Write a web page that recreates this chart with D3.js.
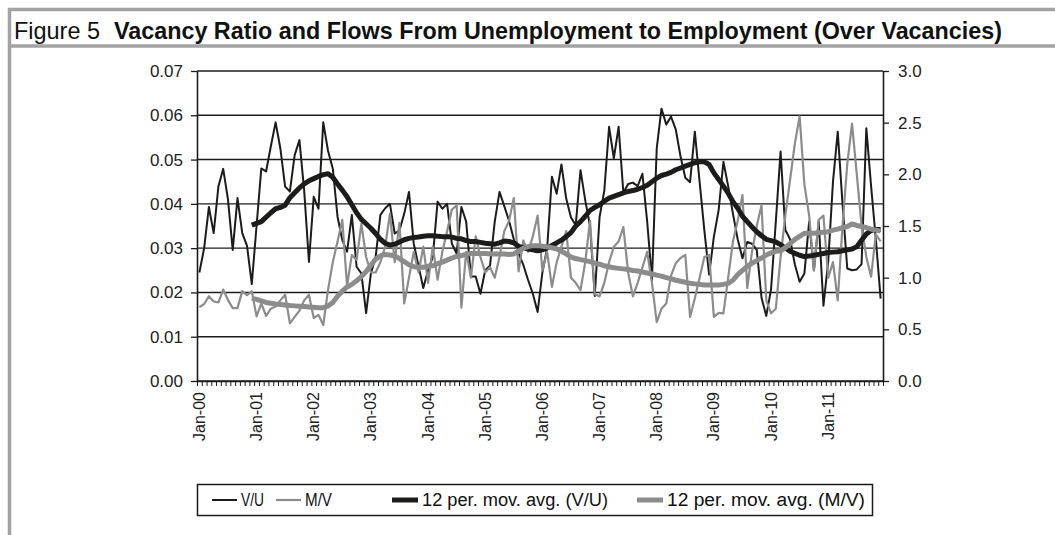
<!DOCTYPE html>
<html><head><meta charset="utf-8">
<script src="https://cdn.jsdelivr.net/npm/d3@7"></script>
<style>body{margin:0;background:#fff;} svg{display:block;}</style>
</head><body>
<svg id="c" width="1055" height="535"></svg>
<script>
// ---------- data ----------
const years = ["00","01","02","03","04","05","06","07","08","09","10","11"];
const monthNames = ["Jan","Feb","Mar","Apr","May","Jun","Jul","Aug","Sep","Oct","Nov","Dec"];
const categories = years.flatMap(y => monthNames.map(m => m + "-" + y));
const tickLabels = ["Jan-00","Jan-01","Jan-02","Jan-03","Jan-04","Jan-05","Jan-06","Jan-07","Jan-08","Jan-09","Jan-10","Jan-11"];
const leftTicks = [0,0.01,0.02,0.03,0.04,0.05,0.06,0.07];
const rightTicks = [0,0.5,1.0,1.5,2.0,2.5,3.0];

// V/U (left axis)
const vu = [
0.0245,0.030,0.0393,0.0334,0.044,0.0479,0.041,0.0296,0.0413,0.0334,0.0305,0.0219,
0.035,0.048,0.0473,0.053,0.0584,0.0525,0.0439,0.0428,0.051,0.0544,0.043,0.0269,
0.0416,0.0389,0.0584,0.052,0.048,0.0371,0.0318,0.0292,0.0375,0.0258,0.0243,0.0153,
0.0243,0.028,0.0375,0.039,0.040,0.0333,0.034,0.0378,0.0427,0.031,0.026,0.021,
0.025,0.028,0.0405,0.0389,0.040,0.031,0.0288,0.0393,0.036,0.0236,0.0236,0.0197,
0.025,0.026,0.036,0.0427,0.0395,0.0362,0.032,0.0288,0.0262,0.0228,0.0197,0.0156,
0.0245,0.030,0.0461,0.0423,0.0489,0.0412,0.0369,0.0352,0.0476,0.0408,0.035,0.0192,
0.037,0.043,0.0574,0.0503,0.0574,0.0425,0.0445,0.0448,0.044,0.0468,0.036,0.0228,
0.0525,0.0615,0.0579,0.0597,0.0568,0.0507,0.0459,0.0449,0.0563,0.045,0.034,0.024,
0.0326,0.0386,0.0495,0.044,0.0378,0.032,0.0277,0.0314,0.031,0.0296,0.0188,0.0147,
0.0207,0.036,0.0518,0.0341,0.032,0.0263,0.0224,0.0243,0.036,0.025,0.036,0.017,
0.027,0.045,0.0563,0.04,0.0254,0.025,0.0252,0.0264,0.0571,0.044,0.032,0.0186
];
// M/V (right axis)
const mv = [
0.715,0.745,0.82,0.77,0.76,0.885,0.785,0.705,0.705,0.87,0.83,0.87,
0.625,0.752,0.63,0.70,0.72,0.78,0.835,0.558,0.62,0.68,0.78,0.835,
0.61,0.64,0.542,0.88,1.15,1.35,1.56,0.92,1.22,1.17,1.52,1.20,
1.05,1.05,1.15,1.30,1.62,1.15,1.53,0.75,1.00,1.25,1.05,1.30,
0.95,1.30,0.98,1.25,1.45,1.66,1.70,0.71,1.25,1.00,1.40,1.20,
1.05,1.10,1.00,1.20,1.45,1.55,1.77,1.06,1.36,1.25,1.40,1.60,
1.07,1.25,0.91,1.15,1.30,1.45,1.00,0.95,0.88,1.15,1.55,0.84,
0.82,0.95,1.15,1.30,1.35,1.49,1.05,0.82,0.95,1.10,1.25,0.95,
0.57,0.70,0.75,1.02,1.14,1.19,1.22,0.62,0.80,1.00,1.20,1.22,
0.62,0.66,0.655,1.00,1.35,1.55,1.80,0.90,1.25,1.50,1.70,0.78,
0.655,0.70,1.20,1.60,1.95,2.30,2.56,1.90,1.60,1.07,1.56,1.60,
1.00,1.15,0.78,1.50,2.10,2.49,2.00,1.50,1.20,1.01,1.42,1.35
];
// 12-period moving averages, starting at month index 11 (Dec-00)
const maStart = 11;
const maVU = [
0.0352,0.0356,0.0360,0.0370,0.0380,0.0389,0.0392,0.0397,0.0414,0.0425,0.0436,0.0445,0.0452,
0.0457,0.0462,0.0466,0.0468,0.0460,0.0445,0.0431,0.0416,0.0398,0.0380,0.0365,0.0355,
0.0345,0.0333,0.0320,0.0311,0.0307,0.0309,0.0314,0.0319,0.0322,0.0324,0.0325,0.0327,
0.0328,0.0328,0.0327,0.0326,0.0326,0.0325,0.0322,0.0321,0.0317,0.0315,0.0315,0.0313,
0.0311,0.0310,0.0309,0.0312,0.0316,0.0315,0.0312,0.0304,0.0301,0.0298,0.0296,0.0294,
0.0296,0.0301,0.0306,0.0312,0.0318,0.0326,0.0335,0.0350,0.0360,0.0372,0.0385,0.0392,
0.0398,0.0406,0.0413,0.0417,0.0421,0.0425,0.0428,0.0430,0.0433,0.0437,0.0442,0.0450,
0.0458,0.0464,0.0467,0.0471,0.0477,0.0481,0.0485,0.0489,0.0493,0.0495,0.0495,0.0489,
0.0470,0.0455,0.0440,0.0424,0.0405,0.0390,0.0372,0.0360,0.0348,0.0337,0.0328,0.0320,
0.0317,0.0314,0.0308,0.0300,0.0293,0.0288,0.0284,0.0281,0.0282,0.0284,0.0286,0.0288,
0.0290,0.0291,0.0292,0.0294,0.0296,0.0298,0.0303,0.0318,0.0332,0.0340,0.0342,0.0342
];
const maMV = [
0.80,0.79,0.775,0.76,0.752,0.745,0.74,0.735,0.73,0.727,0.723,0.72,0.716,
0.713,0.71,0.71,0.725,0.76,0.82,0.87,0.91,0.935,0.97,1.01,1.06,
1.12,1.18,1.21,1.225,1.22,1.21,1.185,1.155,1.125,1.105,1.10,1.10,
1.11,1.115,1.135,1.15,1.17,1.19,1.205,1.215,1.225,1.235,1.235,1.235,
1.235,1.23,1.23,1.23,1.23,1.225,1.23,1.255,1.285,1.30,1.31,1.31,
1.305,1.30,1.29,1.28,1.255,1.23,1.20,1.185,1.175,1.165,1.155,1.14,
1.13,1.115,1.105,1.095,1.09,1.085,1.08,1.07,1.065,1.055,1.045,1.035,
1.025,1.015,1.0,0.99,0.975,0.965,0.955,0.945,0.94,0.935,0.93,0.93,
0.93,0.93,0.935,0.945,0.975,1.03,1.07,1.11,1.14,1.165,1.19,1.22,
1.24,1.255,1.26,1.29,1.33,1.37,1.40,1.43,1.43,1.43,1.435,1.44,
1.445,1.46,1.47,1.485,1.495,1.52,1.505,1.495,1.485,1.47,1.46,1.45
];
const legendItems = ["V/U","M/V","12 per. mov. avg. (V/U)","12 per. mov. avg. (M/V)"];

// ---------- drawing ----------
const svg = d3.select("#c");
const W = 1055, H = 535;
const plot = {l: 197, r: 883, t: 71, b: 381};
const BLACK = "#1e1b1b", GRAY = "#8c8c8c", FRAME = "#a3a3a3";

// frame / title bar
svg.append("line").attr("x1", 8).attr("x2", W).attr("y1", 9.5).attr("y2", 9.5).attr("stroke", FRAME).attr("stroke-width", 3.5);
svg.append("line").attr("x1", 8).attr("x2", W).attr("y1", 46).attr("y2", 46).attr("stroke", FRAME).attr("stroke-width", 3.5);
svg.append("line").attr("x1", 9.5).attr("x2", 9.5).attr("y1", 8).attr("y2", H).attr("stroke", FRAME).attr("stroke-width", 3.5);
const titleFont = "'Liberation Sans Narrow','Arial Narrow','Liberation Sans',Arial,sans-serif";
svg.append("text").attr("x", 14).attr("y", 39).attr("font-family", titleFont).attr("font-size", 24)
  .attr("textLength", 86).attr("lengthAdjust", "spacingAndGlyphs").attr("fill", "#111").text("Figure 5");
svg.append("text").attr("x", 114).attr("y", 39).attr("font-family", titleFont).attr("font-size", 24).attr("font-weight", "bold")
  .attr("textLength", 888).attr("lengthAdjust", "spacingAndGlyphs").attr("fill", "#111")
  .text("Vacancy Ratio and Flows From Unemployment to Employment (Over Vacancies)");

const x = d3.scaleBand().domain(d3.range(categories.length)).range([plot.l, plot.r]).padding(0);
const xb = d3.scaleLinear().domain([0, categories.length]).range([plot.l, plot.r]);
const yL = d3.scaleLinear().domain([0, 0.07]).range([plot.b, plot.t]);
const yR = d3.scaleLinear().domain([0, 3]).range([plot.b, plot.t]);
const cx = i => x(i) + x.bandwidth() / 2;

// gridlines
svg.append("g").selectAll("line").data(leftTicks).join("line")
  .attr("x1", plot.l).attr("x2", plot.r).attr("y1", d => yL(d)).attr("y2", d => yL(d))
  .attr("stroke", BLACK).attr("stroke-width", 1.4);

const axisFont = "'Liberation Sans',Arial,sans-serif";
// left axis
const gL = svg.append("g").attr("transform", `translate(${plot.l},0)`)
  .call(d3.axisLeft(yL).tickValues(leftTicks).tickFormat(d3.format(".2f")).tickSize(6).tickSizeOuter(0).tickPadding(8));
// right axis
const gR = svg.append("g").attr("transform", `translate(${plot.r},0)`)
  .call(d3.axisRight(yR).tickValues(rightTicks).tickFormat(d3.format(".1f")).tickSize(6).tickSizeOuter(0).tickPadding(9));
// bottom axis (month boundaries)
const gB = svg.append("g").attr("transform", `translate(0,${plot.b})`)
  .call(d3.axisBottom(xb).tickValues(d3.range(0, categories.length + 1)).tickFormat("").tickSize(5).tickSizeOuter(0));
[gL, gR, gB].forEach(g => {
  g.selectAll("path.domain").attr("stroke", BLACK).attr("stroke-width", 1.6);
  g.selectAll(".tick line").attr("stroke", BLACK).attr("stroke-width", 1.3);
  g.selectAll("text").attr("font-family", axisFont).attr("font-size", 17).attr("fill", "#222");
});
gB.selectAll(".tick line").attr("stroke-width", 1);

// x labels
svg.append("g").selectAll("text").data(tickLabels).join("text")
  .attr("transform", d => `translate(${cx(categories.indexOf(d)) + 5.5},392) rotate(-90)`)
  .attr("text-anchor", "end").attr("font-family", axisFont).attr("font-size", 16).attr("fill", "#222")
  .text(d => d);

// series
const lineL = d3.line().x((d, i) => cx(i)).y(d => yL(d));
const lineR = d3.line().x((d, i) => cx(i)).y(d => yR(d));
const lineLma = d3.line().x((d, i) => cx(i + maStart)).y(d => yL(d));
const lineRma = d3.line().x((d, i) => cx(i + maStart)).y(d => yR(d));

svg.append("path").attr("d", lineL(vu)).attr("fill", "none").attr("stroke", BLACK).attr("stroke-width", 2).attr("stroke-linejoin", "round");
svg.append("path").attr("d", lineR(mv)).attr("fill", "none").attr("stroke", GRAY).attr("stroke-width", 2.2).attr("stroke-linejoin", "round");
svg.append("path").attr("d", lineLma(maVU)).attr("fill", "none").attr("stroke", BLACK).attr("stroke-width", 5).attr("stroke-linejoin", "round");
svg.append("path").attr("d", lineRma(maMV)).attr("fill", "none").attr("stroke", GRAY).attr("stroke-width", 5).attr("stroke-linejoin", "round");

// legend
const legFont = "'Liberation Sans Narrow','Arial Narrow','Liberation Sans',Arial,sans-serif";
svg.append("rect").attr("x", 197.5).attr("y", 484.5).attr("width", 675).attr("height", 31)
  .attr("fill", "#fff").attr("stroke", BLACK).attr("stroke-width", 1.5);
const legLayout = [
  {x0: 212, x1: 237, tx: 241, tl: 23, color: BLACK, w: 2},
  {x0: 276, x1: 301, tx: 305, tl: 27, color: GRAY, w: 2.2},
  {x0: 392, x1: 418, tx: 422, tl: 186, color: BLACK, w: 5},
  {x0: 637, x1: 663, tx: 667, tl: 198, color: GRAY, w: 5}
];
const lg = svg.append("g").selectAll("g").data(legendItems).join("g");
lg.append("line").attr("x1", (d, i) => legLayout[i].x0).attr("x2", (d, i) => legLayout[i].x1)
  .attr("y1", 500).attr("y2", 500).attr("stroke", (d, i) => legLayout[i].color).attr("stroke-width", (d, i) => legLayout[i].w);
lg.append("text").attr("x", (d, i) => legLayout[i].tx).attr("y", 506).attr("font-family", legFont).attr("font-size", 18)
  .attr("textLength", (d, i) => legLayout[i].tl).attr("lengthAdjust", "spacingAndGlyphs").attr("fill", "#111").text(d => d);
</script>
</body></html>
